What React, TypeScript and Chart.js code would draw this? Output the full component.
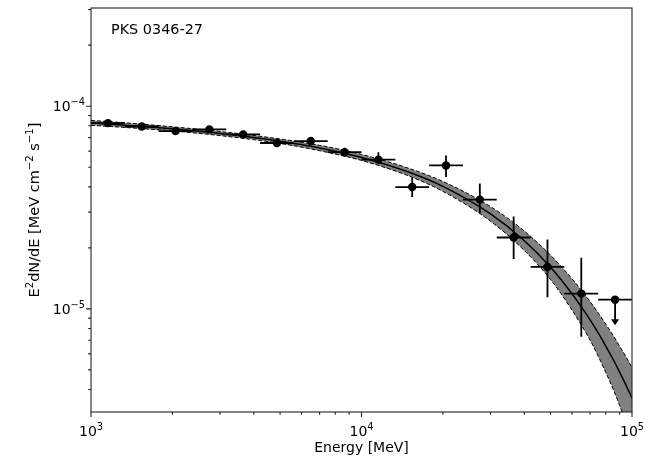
import React, { useEffect, useRef } from 'react';
import { Chart, registerables } from 'chart.js';

Chart.register(...registerables);

// ---- Data ----
const binCenter = [1154.8, 1539.9, 2053.5, 2738.4, 3651.7, 4869.7, 6493.8, 8659.6, 11548, 15399, 20535, 27384, 36517, 48697, 64938];
const binLow = [1000, 1333.5, 1778.3, 2371.4, 3162.3, 4217, 5623.4, 7498.9, 10000, 13335, 17783, 23714, 31623, 42170, 56234];
const binHigh = [1333.5, 1778.3, 2371.4, 3162.3, 4217, 5623.4, 7498.9, 10000, 13335, 17783, 23714, 31623, 42170, 56234, 74989];
const fluxValue = [8.25e-5, 7.94e-5, 7.53e-5, 7.68e-5, 7.26e-5, 6.58e-5, 6.73e-5, 5.93e-5, 5.45e-5, 3.99e-5, 5.1e-5, 3.46e-5, 2.25e-5, 1.61e-5, 1.19e-5];
const fluxLow = [8.0e-5, 7.72e-5, 7.3e-5, 7.45e-5, 7.02e-5, 6.33e-5, 6.42e-5, 5.61e-5, 5.2e-5, 3.56e-5, 4.47e-5, 2.97e-5, 1.76e-5, 1.14e-5, 7.28e-6];
const fluxHigh = [8.5e-5, 8.17e-5, 7.77e-5, 7.93e-5, 7.52e-5, 6.84e-5, 7.05e-5, 6.24e-5, 5.93e-5, 4.47e-5, 5.71e-5, 4.15e-5, 2.86e-5, 2.2e-5, 1.79e-5];

const ulCenter = [86596];
const ulLow = [74989];
const ulHigh = [100000];
const ulValue = [1.11e-5];
const ulArrowTip = [8.3e-6];

const modelEnergy = [1000, 1500, 2000, 3000, 5000, 7000, 10000, 15000, 20000, 30000, 40000, 50000, 60000, 65000, 70000, 75000, 80000, 85000, 90000, 95000, 100000];
const modelFlux = [8.28e-5, 7.97e-5, 7.73e-5, 7.33e-5, 6.72e-5, 6.22e-5, 5.58e-5, 4.72e-5, 4.02e-5, 2.94e-5, 2.168e-5, 1.603e-5, 1.188e-5, 1.0235e-5, 8.83e-6, 7.61e-6, 6.56e-6, 5.66e-6, 4.88e-6, 4.21e-6, 3.63e-6];
const bandHigh = [8.51e-5, 8.18e-5, 7.91e-5, 7.5e-5, 6.89e-5, 6.41e-5, 5.78e-5, 4.93e-5, 4.25e-5, 3.195e-5, 2.42e-5, 1.84e-5, 1.409e-5, 1.236e-5, 1.087e-5, 9.55e-6, 8.41e-6, 7.43e-6, 6.55e-6, 5.8e-6, 5.13e-6];
const bandLow = [8.05e-5, 7.77e-5, 7.55e-5, 7.16e-5, 6.55e-5, 6.03e-5, 5.4e-5, 4.52e-5, 3.8e-5, 2.707e-5, 1.94e-5, 1.396e-5, 9.88e-6, 8.32e-6, 7.02e-6, 5.84e-6, 4.86e-6, 4.05e-6, 3.34e-6, 2.75e-6, 2.27e-6];

const xMajor = [1000, 10000, 100000];
const xMajorExp = ['3', '4', '5'];
const xMinor = [2000, 3000, 4000, 5000, 6000, 7000, 8000, 9000, 20000, 30000, 40000, 50000, 60000, 70000, 80000, 90000];
const yMajor = [1e-4, 1e-5];
const yMajorExp = ['\u22124', '\u22125'];
const yMinor = [4e-6, 5e-6, 6e-6, 7e-6, 8e-6, 9e-6, 2e-5, 3e-5, 4e-5, 5e-5, 6e-5, 7e-5, 8e-5, 9e-5, 2e-4, 3e-4];

const titleText = 'PKS 0346-27';
const xTitle = 'Energy [MeV]';
const yTitleParts: [string, boolean][] = [
  ['E', false], ['2', true], ['dN/dE [MeV cm', false], ['\u22122', true], [' s', false], ['\u22121', true], [']', false],
];

const FONT = '"DejaVu Sans", sans-serif';

function drawMixed(ctx: CanvasRenderingContext2D, parts: [string, boolean][], x: number, y: number, align: 'left' | 'center' | 'right', base: number) {
  const sup = base * 0.7;
  const rise = base * 0.42;
  let total = 0;
  const widths: number[] = [];
  for (const [t, s] of parts) {
    ctx.font = `${s ? sup : base}px ${FONT}`;
    const w = ctx.measureText(t).width;
    widths.push(w);
    total += w;
  }
  let cx = align === 'left' ? x : align === 'center' ? x - total / 2 : x - total;
  ctx.textAlign = 'left';
  ctx.textBaseline = 'alphabetic';
  parts.forEach(([t, s], i) => {
    ctx.font = `${s ? sup : base}px ${FONT}`;
    ctx.fillText(t, cx, s ? y - rise : y);
    cx += widths[i];
  });
}

const axesPlugin = {
  id: 'mplAxes',
  afterDatasetsDraw(chart: any) {
    const ctx: CanvasRenderingContext2D = chart.ctx;
    const xs = chart.scales.x;
    const ys = chart.scales.y;

    // error bars
    ctx.save();
    ctx.strokeStyle = '#000';
    ctx.lineWidth = 1.8;
    ctx.beginPath();
    for (let i = 0; i < binCenter.length; i++) {
      const px = xs.getPixelForValue(binCenter[i]);
      const py = ys.getPixelForValue(fluxValue[i]);
      ctx.moveTo(xs.getPixelForValue(binLow[i]), py);
      ctx.lineTo(xs.getPixelForValue(binHigh[i]), py);
      ctx.moveTo(px, ys.getPixelForValue(fluxHigh[i]));
      ctx.lineTo(px, ys.getPixelForValue(fluxLow[i]));
    }
    for (let i = 0; i < ulCenter.length; i++) {
      const px = xs.getPixelForValue(ulCenter[i]);
      const py = ys.getPixelForValue(ulValue[i]);
      ctx.moveTo(xs.getPixelForValue(ulLow[i]), py);
      ctx.lineTo(xs.getPixelForValue(ulHigh[i]), py);
      const tip = ys.getPixelForValue(ulArrowTip[i]);
      ctx.moveTo(px, py);
      ctx.lineTo(px, tip - 5);
    }
    ctx.stroke();
    ctx.fillStyle = '#000';
    for (let i = 0; i < ulCenter.length; i++) {
      const px = xs.getPixelForValue(ulCenter[i]);
      const tip = ys.getPixelForValue(ulArrowTip[i]);
      ctx.beginPath();
      ctx.moveTo(px - 4, tip - 6);
      ctx.lineTo(px + 4, tip - 6);
      ctx.lineTo(px, tip);
      ctx.closePath();
      ctx.fill();
    }
    ctx.restore();
  },
  afterDraw(chart: any) {
    const ctx: CanvasRenderingContext2D = chart.ctx;
    const xs = chart.scales.x;
    const ys = chart.scales.y;
    const a = chart.chartArea;
    ctx.save();
    // frame
    ctx.strokeStyle = '#222';
    ctx.lineWidth = 1.1;
    ctx.strokeRect(a.left, a.top, a.right - a.left, a.bottom - a.top);
    // ticks
    ctx.beginPath();
    for (const v of xMajor) {
      const p = xs.getPixelForValue(v);
      ctx.moveTo(p, a.bottom);
      ctx.lineTo(p, a.bottom + 4.9);
    }
    for (const v of xMinor) {
      const p = xs.getPixelForValue(v);
      ctx.moveTo(p, a.bottom);
      ctx.lineTo(p, a.bottom + 2.8);
    }
    for (const v of yMajor) {
      const p = ys.getPixelForValue(v);
      ctx.moveTo(a.left, p);
      ctx.lineTo(a.left - 4.9, p);
    }
    for (const v of yMinor) {
      const p = ys.getPixelForValue(v);
      if (p < a.top - 0.5 || p > a.bottom + 0.5) continue;
      ctx.moveTo(a.left, p);
      ctx.lineTo(a.left - 2.8, p);
    }
    ctx.stroke();

    ctx.fillStyle = '#000';
    // x tick labels
    xMajor.forEach((v, i) => {
      const p = xs.getPixelForValue(v);
      drawMixed(ctx, [['10', false], [xMajorExp[i], true]], p, 436, 'center', 14);
    });
    // y tick labels
    yMajor.forEach((v, i) => {
      const p = ys.getPixelForValue(v);
      drawMixed(ctx, [['10', false], [yMajorExp[i], true]], a.left - 6, p + 5, 'right', 14);
    });
    // x title
    drawMixed(ctx, [[xTitle, false]], (a.left + a.right) / 2, 452, 'center', 14);
    // y title
    ctx.save();
    ctx.translate(39, (a.top + a.bottom) / 2);
    ctx.rotate(-Math.PI / 2);
    drawMixed(ctx, yTitleParts, 0, 0, 'center', 14.5);
    ctx.restore();
    // in-plot title
    drawMixed(ctx, [[titleText, false]], 111, 33.5, 'left', 14.4);
    ctx.restore();
  },
};

export default function App() {
  const ref = useRef<HTMLCanvasElement>(null);
  useEffect(() => {
    if (!ref.current) return;
    const pts = (xsArr: number[], ysArr: number[]) => xsArr.map((x, i) => ({ x, y: ysArr[i] }));
    const chart = new Chart(ref.current, {
      type: 'line',
      data: {
        datasets: [
          {
            label: 'band high',
            data: pts(modelEnergy, bandHigh),
            borderColor: '#000',
            borderWidth: 1,
            borderDash: [4, 2],
            pointRadius: 0,
            fill: '+1',
            backgroundColor: '#808080',
            cubicInterpolationMode: 'monotone',
            order: 4,
          },
          {
            label: 'band low',
            data: pts(modelEnergy, bandLow),
            borderColor: '#000',
            borderWidth: 1,
            borderDash: [4, 2],
            pointRadius: 0,
            fill: false,
            cubicInterpolationMode: 'monotone',
            order: 3,
          },
          {
            label: 'model',
            data: pts(modelEnergy, modelFlux),
            borderColor: '#000',
            borderWidth: 1.5,
            pointRadius: 0,
            fill: false,
            cubicInterpolationMode: 'monotone',
            order: 2,
          },
          {
            label: 'points',
            data: pts(binCenter, fluxValue),
            showLine: false,
            pointRadius: 4.2,
            pointBackgroundColor: '#000',
            pointBorderWidth: 0,
            order: 1,
          },
          {
            label: 'ul',
            data: pts(ulCenter, ulValue),
            showLine: false,
            pointRadius: 4.2,
            pointBackgroundColor: '#000',
            pointBorderWidth: 0,
            order: 0,
          },
        ],
      },
      options: {
        responsive: false,
        animation: false,
        devicePixelRatio: 1,
        layout: { padding: { left: 91, right: 18, top: 8, bottom: 46 } },
        plugins: { legend: { display: false }, tooltip: { enabled: false } },
        scales: {
          x: { type: 'logarithmic', min: 1000, max: 100000, display: false },
          y: { type: 'logarithmic', min: 3.1e-6, max: 3.05e-4, display: false },
        },
      },
      plugins: [axesPlugin],
    } as any);
    return () => chart.destroy();
  }, []);
  return (
    <div style={{ position: 'absolute', left: 0, top: 0, width: 650, height: 458, background: '#fff' }}>
      <canvas ref={ref} width={650} height={458} />
    </div>
  );
}
